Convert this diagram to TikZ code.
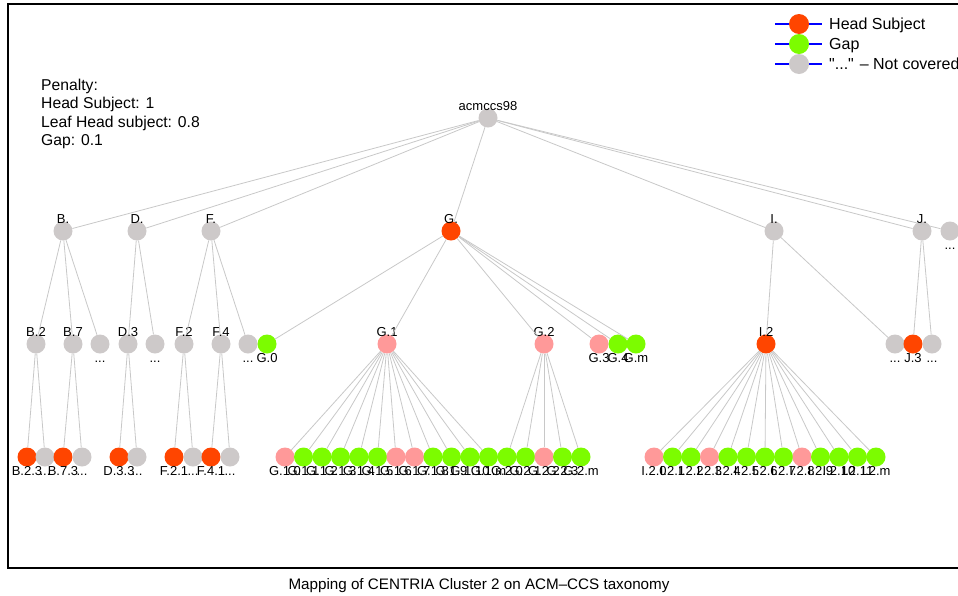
\documentclass[tikz,border=0pt]{standalone}
\usepackage{fontspec}
\setmainfont{Liberation Sans}
\definecolor{headred}{RGB}{255,69,0}
\definecolor{gapgreen}{RGB}{124,252,0}
\definecolor{outgray}{RGB}{205,201,201}
\definecolor{leafpink}{RGB}{255,153,153}
\definecolor{edgegray}{RGB}{200,200,200}
\tikzset{font={\fontsize{13}{15}\selectfont}}

\begin{document}
\begin{tikzpicture}[x=1pt,y=-1pt,
    tax node/.style={circle,inner sep=0pt,minimum size=19pt},
    head node/.style={tax node,fill=headred},
    gap node/.style={tax node,fill=gapgreen},
    out node/.style={tax node,fill=outgray},
    leaf node/.style={tax node,fill=leafpink},
    every label/.style={inner sep=0pt,text height=9pt,text depth=0pt},
    label distance=0pt,
    tl/.style={label={[yshift=-2.5pt]above:#1}},
    bl/.style={label={below:#1}},
    edge/.style={draw=edgegray,line width=0.8pt},
    legend text/.style={anchor=west,inner sep=0pt,text height=11.5pt,text depth=0pt,
                        font={\fontsize{16}{18}\selectfont}}]

  \useasboundingbox (0,0) rectangle (958,595);
  \draw[line width=1.3pt] (960,4) -- (8,4) -- (8,568) -- (960,568);

  % root and first level
  \node[out node,tl=acmccs98] (root) at (488,118) {};
  \node[out node,tl=B.] (b) at (63,231) {};
  \node[out node,tl=D.] (d) at (137,231) {};
  \node[out node,tl=F.] (f) at (211,231) {};
  \node[head node,tl=G.] (g) at (451,231) {};
  \node[out node,tl=I.] (i) at (774,231) {};
  \node[out node,tl=J.] (j) at (922,231) {};
  \node[out node,bl=...] (rx) at (950,231) {};

  % second level
  \node[out node,tl=B.2] (b2) at (36,344) {};
  \node[out node,tl=B.7] (b7) at (73,344) {};
  \node[out node,bl=...] (bx) at (100,344) {};
  \node[out node,tl=D.3] (d3) at (128,344) {};
  \node[out node,bl=...] (dx) at (155,344) {};
  \node[out node,tl=F.2] (f2) at (184,344) {};
  \node[out node,tl=F.4] (f4) at (221,344) {};
  \node[out node,bl=...] (fx) at (248,344) {};
  \node[gap node,bl=G.0] (g0) at (267,344) {};
  \node[leaf node,tl=G.1] (g1) at (387,344) {};
  \node[leaf node,tl=G.2] (g2) at (544,344) {};
  \node[leaf node,bl=G.3] (g3) at (599,344) {};
  \node[gap node,bl=G.4] (g4) at (618,344) {};
  \node[gap node,bl=G.m] (gm) at (636,344) {};
  \node[head node,tl=I.2] (i2) at (766,344) {};
  \node[out node,bl=...] (ix) at (895,344) {};
  \node[head node,bl=J.3] (j3) at (913,344) {};
  \node[out node,bl=...] (jx) at (932,344) {};

  % third level, left part
  \node[head node,bl=B.2.3] (b23) at (27,457) {};
  \node[out node,bl=...] (b2x) at (45,457) {};
  \node[head node,bl=B.7.3] (b73) at (63,457) {};
  \node[out node,bl=...] (b7x) at (82,457) {};
  \node[head node,bl=D.3.3] (d33) at (119,457) {};
  \node[out node,bl=...] (d3x) at (137,457) {};
  \node[head node,bl=F.2.1] (f21) at (174,457) {};
  \node[out node,bl=...] (f2x) at (193,457) {};
  \node[head node,bl=F.4.1] (f41) at (211,457) {};
  \node[out node,bl=...] (f4x) at (230,457) {};

  % third level, G.1 and G.2
  \foreach \lab/\sty [count=\k from 0] in {G.1.0/leaf,G.1.1/gap,G.1.2/gap,G.1.3/gap,
      G.1.4/gap,G.1.5/gap,G.1.6/leaf,G.1.7/leaf,G.1.8/gap,G.1.9/gap,G.1.10/gap,G.1.m/gap,
      G.2.0/gap,G.2.1/gap,G.2.2/leaf,G.2.3/gap,G.2.m/gap}
    \node[\sty\space node,bl=\lab] (gg\k) at (285+18.5*\k,457) {};

  % third level, I.2
  \foreach \lab/\sty [count=\k from 0] in {I.2.0/leaf,I.2.1/gap,I.2.2/gap,I.2.3/leaf,
      I.2.4/gap,I.2.5/gap,I.2.6/gap,I.2.7/gap,I.2.8/leaf,I.2.9/gap,I.2.10/gap,I.2.11/gap,I.2.m/gap}
    \node[\sty\space node,bl=\lab] (ii\k) at (654+18.5*\k,457) {};

  % edges
  \foreach \n in {b,d,f,g,i,j,rx} \draw[edge] (root) -- (\n);
  \foreach \n in {b2,b7,bx} \draw[edge] (b) -- (\n);
  \foreach \n in {d3,dx} \draw[edge] (d) -- (\n);
  \foreach \n in {f2,f4,fx} \draw[edge] (f) -- (\n);
  \foreach \n in {g0,g1,g2,g3,g4,gm} \draw[edge] (g) -- (\n);
  \foreach \n in {i2,ix} \draw[edge] (i) -- (\n);
  \foreach \n in {j3,jx} \draw[edge] (j) -- (\n);
  \foreach \a/\n in {b2/b23,b2/b2x,b7/b73,b7/b7x,d3/d33,d3/d3x,f2/f21,f2/f2x,f4/f41,f4/f4x}
    \draw[edge] (\a) -- (\n);
  \foreach \k in {0,...,11} \draw[edge] (g1) -- (gg\k);
  \foreach \k in {12,...,16} \draw[edge] (g2) -- (gg\k);
  \foreach \k in {0,...,12} \draw[edge] (i2) -- (ii\k);

  % legend
  \foreach \sty/\txt [count=\k] in {head/Head Subject,gap/Gap,
      out/{\textquotedbl...\textquotedbl{} – Not covered}} {
    \coordinate (la\k) at (775,4+20*\k);
    \coordinate (lb\k) at (822,4+20*\k);
    \draw[blue,line width=2.5pt] (la\k) -- (lb\k);
    \node[\sty\space node,minimum size=20pt] (lm\k) at (799,4+20*\k) {};
    \node[legend text] (lt\k) at (829,4+20*\k) {\txt};
  }

  \node[anchor=north west,align=left,inner sep=0pt,
        font={\fontsize{15.7}{18.3}\selectfont}] (pen) at (41,79)
    {Penalty:\\Head Subject: 1\\Leaf Head subject: 0.8\\Gap: 0.1};

  \node[anchor=base,font={\fontsize{15.2}{18}\selectfont}] (cap) at (479,589)
    {Mapping of CENTRIA Cluster 2 on ACM–CCS taxonomy};
\end{tikzpicture}
\end{document}
